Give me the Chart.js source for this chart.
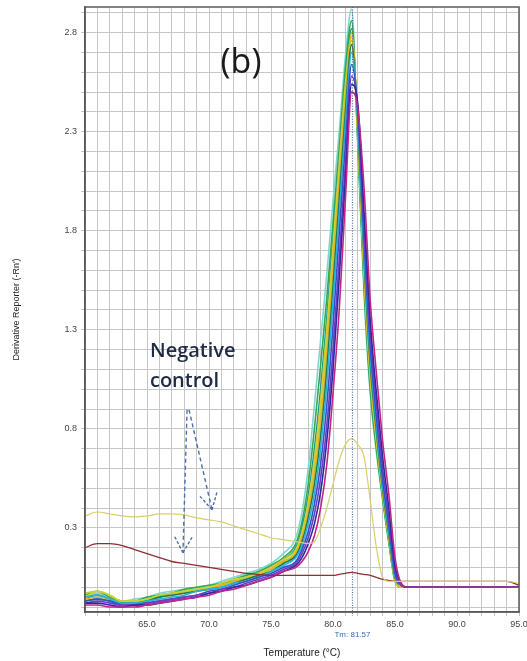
<!DOCTYPE html>
<html>
<head>
<meta charset="utf-8">
<script src="https://cdn.jsdelivr.net/npm/chart.js@4.4.1/dist/chart.umd.min.js"></script>
<style>
  html, body { margin: 0; padding: 0; background: #fff; }
  canvas { display: block; }
</style>
</head>
<body>
<canvas id="melt" width="527" height="661"></canvas>
<script>
// temperature grid (°C) shared by every well
const temps = [60, 61, 62, 63, 64, 65, 66, 67, 68, 69, 70, 71, 72, 73, 74, 75, 76,
  77, 77.5, 78, 78.5, 79, 79.5, 80, 80.5, 81, 81.5, 82, 82.5, 83, 83.5, 84, 84.5, 85, 85.5,
  86, 88, 90, 92, 94, 95]

// derivative reporter (-Rn') per well
const wellA = [-0.05,-0.03,-0.05,-0.07,-0.06,-0.05,-0.03,-0.02,-0.01,0.00,0.01,0.03,0.05,0.07,0.09,0.12,0.17,
  0.25,0.38,0.60,0.92,1.25,1.58,1.95,2.30,2.68,2.92,2.22,1.48,0.98,0.68,0.44,0.22,0.03,0.00,
  0.00,0.00,0.00,0.00,0.00,0.00]
const wellB = [-0.04,-0.02,-0.05,-0.07,-0.07,-0.05,-0.04,-0.03,-0.01,0.00,0.01,0.02,0.04,0.06,0.08,0.11,0.15,
  0.22,0.33,0.52,0.80,1.12,1.46,1.84,2.22,2.62,2.86,2.25,1.52,1.00,0.70,0.45,0.23,0.03,0.00,
  0.00,0.00,0.00,0.00,0.00,0.00]
const wellC = [-0.06,-0.04,-0.06,-0.08,-0.07,-0.06,-0.04,-0.03,-0.02,-0.01,0.00,0.02,0.03,0.05,0.07,0.10,0.14,
  0.20,0.30,0.46,0.70,1.00,1.36,1.76,2.16,2.56,2.82,2.28,1.56,1.04,0.72,0.46,0.24,0.04,0.00,
  0.00,0.00,0.00,0.00,0.00,0.00]
const wellD = [-0.03,-0.02,-0.04,-0.07,-0.07,-0.06,-0.04,-0.03,-0.02,-0.01,0.00,0.01,0.03,0.05,0.07,0.10,0.13,
  0.18,0.27,0.41,0.62,0.90,1.26,1.68,2.10,2.50,2.76,2.30,1.60,1.08,0.75,0.48,0.25,0.04,0.00,
  0.00,0.00,0.00,0.00,0.00,0.00]
const wellE = [-0.06,-0.05,-0.06,-0.08,-0.08,-0.07,-0.05,-0.04,-0.03,-0.02,-0.01,0.01,0.03,0.04,0.06,0.09,0.13,
  0.17,0.25,0.38,0.57,0.83,1.18,1.60,2.04,2.46,2.80,2.32,1.62,1.10,0.77,0.49,0.26,0.05,0.00,
  0.00,0.00,0.00,0.00,0.00,0.00]
const wellF = [-0.07,-0.06,-0.07,-0.08,-0.08,-0.07,-0.05,-0.04,-0.03,-0.02,-0.01,0.00,0.02,0.04,0.06,0.08,0.12,
  0.16,0.23,0.35,0.52,0.76,1.10,1.52,1.96,2.40,2.74,2.34,1.66,1.13,0.79,0.50,0.27,0.05,0.01,
  0.00,0.00,0.00,0.00,0.00,0.00]
const wellG = [-0.05,-0.04,-0.06,-0.08,-0.08,-0.07,-0.06,-0.05,-0.04,-0.02,-0.01,0.00,0.02,0.03,0.05,0.08,0.11,
  0.15,0.21,0.32,0.47,0.70,1.02,1.44,1.88,2.34,2.70,2.36,1.70,1.17,0.82,0.52,0.29,0.06,0.01,
  0.00,0.00,0.00,0.00,0.00,0.00]
const wellH = [-0.07,-0.06,-0.07,-0.09,-0.09,-0.08,-0.07,-0.06,-0.05,-0.04,-0.02,-0.01,0.01,0.03,0.05,0.07,0.10,
  0.13,0.19,0.28,0.42,0.62,0.92,1.32,1.78,2.24,2.64,2.40,1.76,1.22,0.86,0.55,0.31,0.07,0.01,
  0.00,0.00,0.00,0.00,0.00,0.00]
const wellI = [-0.08,-0.07,-0.08,-0.09,-0.09,-0.08,-0.07,-0.06,-0.05,-0.04,-0.03,-0.01,0.00,0.02,0.04,0.06,0.09,
  0.12,0.17,0.25,0.37,0.55,0.82,1.20,1.66,2.14,2.58,2.42,1.82,1.28,0.92,0.60,0.35,0.09,0.01,
  0.00,0.00,0.00,0.00,0.00,0.00]
const wellJ = [-0.08,-0.08,-0.09,-0.10,-0.09,-0.09,-0.08,-0.07,-0.06,-0.05,-0.03,-0.02,0.00,0.01,0.03,0.05,0.08,
  0.11,0.15,0.22,0.32,0.48,0.74,1.10,1.56,2.06,2.54,2.44,1.90,1.35,0.98,0.66,0.40,0.11,0.02,
  0.00,0.00,0.00,0.00,0.00,0.00]
const wellK = [-0.09,-0.09,-0.10,-0.10,-0.10,-0.09,-0.08,-0.07,-0.06,-0.05,-0.04,-0.02,-0.01,0.01,0.03,0.05,0.08,
  0.10,0.13,0.18,0.26,0.40,0.62,0.98,1.40,1.96,2.50,2.42,2.02,1.45,1.08,0.74,0.47,0.15,0.02,
  0.00,0.00,0.00,0.00,0.00,0.00]
const wellL = [-0.05,-0.02,-0.04,-0.07,-0.07,-0.06,-0.04,-0.03,-0.02,-0.01,0.00,0.02,0.04,0.05,0.07,0.10,0.14,
  0.19,0.28,0.43,0.65,0.94,1.30,1.72,2.14,2.54,2.78,2.29,1.58,1.06,0.74,0.47,0.25,0.04,0.00,
  0.00,0.00,0.00,0.00,0.00,0.00]

// negative controls
const ncYellow = [0.36,0.38,0.37,0.36,0.355,0.36,0.37,0.37,0.365,0.35,0.34,0.33,0.31,0.29,0.27,0.25,0.24,
  0.23,0.225,0.22,0.23,0.30,0.40,0.52,0.64,0.72,0.75,0.72,0.66,0.44,0.20,0.05,0.03,0.03,0.03,
  0.03,0.03,0.03,0.03,0.03,0.02]
const ncBrown = [0.20,0.22,0.22,0.21,0.19,0.17,0.15,0.13,0.12,0.11,0.10,0.09,0.08,0.07,0.065,0.06,0.06,
  0.06,0.06,0.06,0.06,0.06,0.06,0.06,0.065,0.07,0.075,0.07,0.065,0.06,0.05,0.04,0.035,0.03,0.03,
  0.03,0.03,0.03,0.03,0.03,0.01]

const xTickLabels = [65, 70, 75, 80, 85, 90, 95]
const yTickLabels = [0.3, 0.8, 1.3, 1.8, 2.3, 2.8]
const tmValue = 81.57

const wells = [
  { values: wellK, color: '#c2248c' },
  { values: wellJ, color: '#2b2a9a' },
  { values: wellI, color: '#6a3cc8' },
  { values: wellH, color: '#3350cc' },
  { values: wellG, color: '#27b4d2' },
  { values: wellF, color: '#1f7a4c' },
  { values: wellE, color: '#e2b222' },
  { values: wellL, color: '#d0cf34' },
  { values: wellD, color: '#b6d43a' },
  { values: wellC, color: '#12998a' },
  { values: wellB, color: '#36a852' },
  { values: wellA, color: '#7fd6d0' }
]

const toPoints = (values) => values.map((y, i) => ({ x: temps[i], y }))

const datasets = [
  { data: toPoints(ncYellow), borderColor: '#d9cf6a', borderWidth: 1.2 },
  { data: toPoints(ncBrown), borderColor: '#8c2e32', borderWidth: 1.3 }
].concat(wells.map(w => ({ data: toPoints(w.values), borderColor: w.color, borderWidth: 1.6 })))

// annotations (in data units)
const arrows = [
  { from: [68.23, 0.896], to: [67.90, 0.174] },
  { from: [68.39, 0.896], to: [70.24, 0.391] }
]

const annotate = {
  id: 'annotate',
  afterDatasetsDraw(chart) {
    const { ctx, chartArea: a, scales: { x, y } } = chart
    ctx.save()

    // Tm marker
    const tx = x.getPixelForValue(tmValue)
    ctx.strokeStyle = '#4a6a9a'
    ctx.lineWidth = 1.2
    ctx.setLineDash([1, 1.6])
    ctx.beginPath()
    ctx.moveTo(tx, a.top)
    ctx.lineTo(tx, a.bottom + 4)
    ctx.stroke()

    // arrows
    ctx.strokeStyle = '#4b6fae'
    ctx.lineWidth = 1.4
    arrows.forEach(ar => {
      const x0 = x.getPixelForValue(ar.from[0]), y0 = y.getPixelForValue(ar.from[1])
      const x1 = x.getPixelForValue(ar.to[0]), y1 = y.getPixelForValue(ar.to[1])
      const ang = Math.atan2(y1 - y0, x1 - x0)
      ctx.setLineDash([4, 3])
      ctx.beginPath()
      ctx.moveTo(x0, y0)
      ctx.lineTo(x1, y1)
      ctx.stroke()
      ctx.setLineDash([3, 2])
      ;[-0.5, 0.5].forEach(d => {
        ctx.beginPath()
        ctx.moveTo(x1, y1)
        ctx.lineTo(x1 - 19 * Math.cos(ang + d), y1 - 19 * Math.sin(ang + d))
        ctx.stroke()
      })
    })
    ctx.setLineDash([])

    // frame
    ctx.strokeStyle = '#5a5a5a'
    ctx.lineWidth = 1.5
    ctx.strokeRect(a.left, a.top, a.right - a.left, a.bottom - a.top)

    // texts
    ctx.fillStyle = '#1a1a1a'
    ctx.font = '34px "Open Sans"'
    ctx.textAlign = 'center'
    ctx.textBaseline = 'alphabetic'
    ctx.fillText('(b)', x.getPixelForValue(72.58), y.getPixelForValue(2.598))

    ctx.fillStyle = '#1f2a44'
    ctx.font = '600 20px "Open Sans"'
    ctx.textAlign = 'left'
    ctx.fillText('Negative', x.getPixelForValue(65.24), y.getPixelForValue(1.164))
    ctx.fillText('control', x.getPixelForValue(65.24), y.getPixelForValue(1.012))

    ctx.fillStyle = '#3a6ab0'
    ctx.font = '8px "Liberation Sans"'
    ctx.textAlign = 'center'
    ctx.textBaseline = 'middle'
    ctx.fillText('Tm: ' + tmValue.toFixed(2), tx, a.bottom + 23)
    ctx.restore()
  }
}

new Chart(document.getElementById('melt'), {
  type: 'line',
  data: { datasets },
  plugins: [annotate],
  options: {
    responsive: false,
    animation: false,
    devicePixelRatio: 1,
    layout: { padding: { top: 7, right: 8, left: 0, bottom: 0 } },
    elements: {
      point: { radius: 0 },
      line: { cubicInterpolationMode: 'monotone', fill: false }
    },
    plugins: {
      legend: { display: false },
      tooltip: { enabled: false }
    },
    scales: {
      x: {
        type: 'linear',
        min: 60,
        max: 95,
        ticks: {
          stepSize: 1,
          autoSkip: false,
          maxRotation: 0,
          padding: 3,
          color: '#444',
          font: { family: 'Liberation Sans', size: 9 },
          callback: v => xTickLabels.includes(v) ? v.toFixed(1) : ''
        },
        grid: { color: '#c6c6c6', tickLength: 4 },
        border: { color: '#5a5a5a', width: 1.5 },
        title: {
          display: true,
          text: 'Temperature (°C)',
          color: '#222',
          font: { family: 'Liberation Sans', size: 10 },
          padding: { top: 0, bottom: 2 }
        },
        afterFit: s => { s.height = 49; s.paddingLeft = 0; s.paddingRight = 0 }
      },
      y: {
        min: -0.125,
        max: 2.93,
        ticks: {
          stepSize: 0.1,
          includeBounds: false,
          autoSkip: false,
          padding: 4,
          color: '#444',
          font: { family: 'Liberation Sans', size: 9 },
          callback: v => yTickLabels.some(t => Math.abs(t - v) < 1e-6) ? v.toFixed(1) : ''
        },
        grid: { color: '#c6c6c6', tickLength: 4 },
        border: { color: '#5a5a5a', width: 1.5 },
        title: {
          display: true,
          text: "Derivative Reporter (-Rn')",
          color: '#222',
          font: { family: 'Liberation Sans', size: 9 },
          padding: { top: 11, bottom: 0 }
        },
        afterFit: s => { s.width = 85; s.paddingTop = 0; s.paddingBottom = 0 }
      }
    }
  }
})
</script>
</body>
</html>
